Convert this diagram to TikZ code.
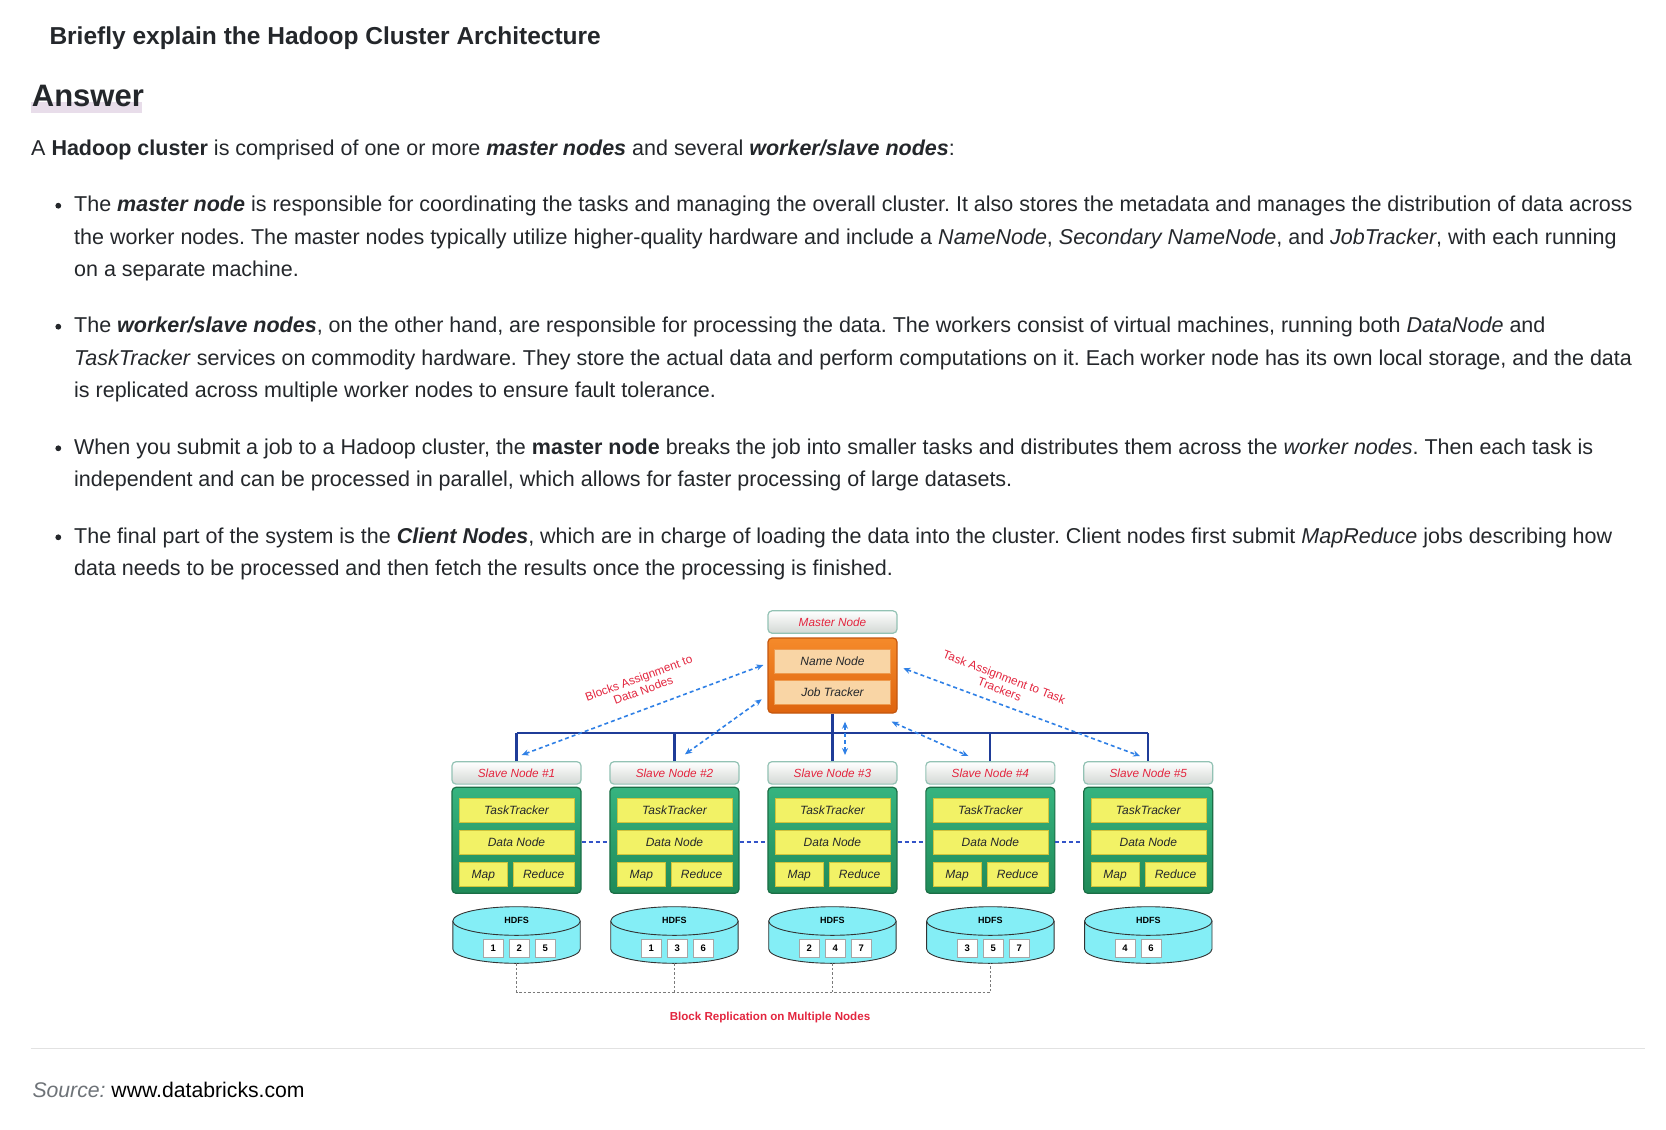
\documentclass[tikz,border=0pt]{standalone}
\usepackage{fontspec}
\setmainfont{Liberation Sans}
\usetikzlibrary{positioning,arrows.meta}
\definecolor{ink}{HTML}{24272B}
\definecolor{answerbar}{HTML}{E8DDEA}
\definecolor{rulegray}{HTML}{E2E2E2}
\definecolor{srcgray}{HTML}{6E7378}
\definecolor{alert}{HTML}{E3263F}
\definecolor{headrim}{HTML}{93C2B4}
\definecolor{headgray}{HTML}{D3D8D4}
\definecolor{mtop}{HTML}{F58A2A}
\definecolor{mbottom}{HTML}{DE640F}
\definecolor{mrim}{HTML}{C4560E}
\definecolor{mpart}{HTML}{F9D5A5}
\definecolor{mpartrim}{HTML}{EE9A4E}
\definecolor{gtop}{HTML}{36B47F}
\definecolor{gbottom}{HTML}{1F8A58}
\definecolor{grim}{HTML}{1B6E46}
\definecolor{ypart}{HTML}{F2F266}
\definecolor{ypartrim}{HTML}{CFC43C}
\definecolor{disk}{HTML}{84EEF6}
\definecolor{diskrim}{HTML}{333333}
\definecolor{busblue}{HTML}{1F3C98}
\definecolor{arrowblue}{HTML}{2F80E6}
\definecolor{linkblue}{HTML}{3353C8}
\definecolor{replgray}{HTML}{7A7A7A}
\frenchspacing
\begin{document}
\begin{tikzpicture}[
    x=1pt, y=-1pt,
    line/.style={anchor=base west, inner sep=0pt, text=ink, font=\fontsize{21.5}{26}\selectfont},
    head/.style={draw=headrim, line width=1.2pt, rounded corners=4pt, top color=white,
      bottom color=headgray, minimum width=129pt, minimum height=22.4pt, inner sep=0pt,
      text=alert, font=\fontsize{11.8}{13}\selectfont\itshape},
    master/.style={draw=mrim, line width=1.2pt, rounded corners=4pt, top color=mtop,
      bottom color=mbottom, minimum width=129pt, minimum height=75pt},
    mpart/.style={draw=mpartrim, fill=mpart, minimum width=116pt, minimum height=24pt,
      inner sep=0pt, text height=9.2pt, text depth=0.4pt, text=ink,
      font=\fontsize{12}{13}\selectfont\itshape},
    slave/.style={draw=grim, line width=1.2pt, rounded corners=4pt, top color=gtop,
      bottom color=gbottom, minimum width=129pt, minimum height=106pt},
    part/.style={draw=ypartrim, fill=ypart, minimum height=24pt, inner sep=0pt,
      text height=9.2pt, text depth=0.4pt, text=ink, font=\fontsize{12}{13}\selectfont\itshape},
    disk/.style={draw=diskrim, line width=0.9pt, fill=disk},
    block/.style={draw=gray!70, fill=white, minimum width=20pt, minimum height=17.4pt,
      inner sep=0pt, font=\fontsize{9.5}{10}\selectfont\bfseries},
    bus/.style={draw=busblue, line width=2.2pt},
    dasharr/.style={draw=arrowblue, line width=1.6pt, dash pattern=on 4pt off 3pt,
      arrows={Stealth[length=7pt,width=6pt]-Stealth[length=7pt,width=6pt]}},
    link/.style={draw=linkblue, line width=1.5pt, dash pattern=on 4pt off 3pt},
    repl/.style={draw=replgray, line width=1.2pt, dash pattern=on 2.5pt off 2pt},
    note/.style={text=alert, align=center, inner sep=0pt, font=\fontsize{11.8}{13}\selectfont},
  ]
    \useasboundingbox [fill=white] (0,0) rectangle (1666,1130);

    % text of the page
    \node [line, font=\fontsize{24.5}{28}\selectfont\bfseries] (title) at (49.3,44) {Briefly explain the Hadoop Cluster Architecture};
    \fill [answerbar] (30.7,101.7) rectangle (141.7,112.7);
    \node [line, font=\fontsize{31}{34}\selectfont\bfseries] (answer) at (31.7,106) {Answer};
    \node [line] (intro) at (31,155) {A \textbf{Hadoop cluster} is comprised of one or more \textbf{\textit{master nodes}} and several \textbf{\textit{worker/slave nodes}}:};
    \foreach \y in {205.7,326.7,448.3,537.3}
      \fill [ink] (58.3,\y) circle [radius=2.9];
    \node [line] (b1a) at (74,211.7) {The \textbf{\textit{master node}} is responsible for coordinating the tasks and managing the overall cluster. It also stores the metadata and manages the distribution of data across};
    \node [line] (b1b) at (74,244) {the worker nodes. The master nodes typically utilize higher-quality hardware and include a \textit{NameNode}, \textit{Secondary NameNode}, and \textit{JobTracker}, with each running};
    \node [line] (b1c) at (74,276.3) {on a separate machine.};
    \node [line] (b2a) at (74,332.7) {The \textbf{\textit{worker/slave nodes}}, on the other hand, are responsible for processing the data. The workers consist of virtual machines, running both \textit{DataNode} and};
    \node [line] (b2b) at (74,365) {\textit{TaskTracker} services on commodity hardware. They store the actual data and perform computations on it. Each worker node has its own local storage, and the data};
    \node [line] (b2c) at (74,397.3) {is replicated across multiple worker nodes to ensure fault tolerance.};
    \node [line] (b3a) at (74,454.3) {When you submit a job to a Hadoop cluster, the \textbf{master node} breaks the job into smaller tasks and distributes them across the \textit{worker nodes}. Then each task is};
    \node [line] (b3b) at (74,486.5) {independent and can be processed in parallel, which allows for faster processing of large datasets.};
    \node [line] (b4a) at (74,543.3) {The final part of the system is the \textbf{\textit{Client Nodes}}, which are in charge of loading the data into the cluster. Client nodes first submit \textit{MapReduce} jobs describing how};
    \node [line] (b4b) at (74,575.5) {data needs to be processed and then fetch the results once the processing is finished.};

    % master node
    \node [head] (mhead) at (832.5,622) {Master Node};
    \node [master] (mbody) at (832.5,675.5) {};
    \node [mpart] (nn) at (832.5,661) {Name Node};
    \node [mpart] (jt) at (832.5,692) {Job Tracker};

    % slave nodes with their HDFS disks
    \foreach \i/\bl in {1/{1,2,5},2/{1,3,6},3/{2,4,7},4/{3,5,7},5/{4,6}} {
      \pgfmathsetmacro\cx{516.5+157.95*(\i-1)}
      \node [head] (head\i) at (\cx,772.9) {Slave Node \#\i};
      \node [slave] (body\i) at (\cx,840.3) {};
      \node [part, minimum width=115pt] (tt\i) at (\cx,810.3) {TaskTracker};
      \node [part, minimum width=115pt] (dn\i) at (\cx,842) {Data Node};
      \node [part, minimum width=48.7pt] (map\i) at (\cx-33.2,873.9) {Map};
      \node [part, minimum width=60.7pt] (red\i) at (\cx+27.2,873.9) {Reduce};
      \draw [disk] (\cx-63.7,921) -- (\cx-63.7,949)
        arc [start angle=180, end angle=0, x radius=63.7, y radius=14.3] -- (\cx+63.7,921);
      \draw [disk] (\cx,921) ellipse [x radius=63.7, y radius=14.3];
      \node [font=\fontsize{9}{10}\selectfont\bfseries] (hdfs\i) at (\cx,920) {HDFS};
      \coordinate (disk\i) at (\cx,963.3);
      \foreach \b [count=\k] in \bl
        \node [block] (blk\i\k) at (\cx-23.2+26*\k-26,948) {\b};
    }

    % bus from the master
    \coordinate (bus) at (832.5,733.3);
    \draw [bus] (mbody.south) -- (bus);
    \draw [bus] (head1.north |- bus) -- (head5.north |- bus);
    \foreach \i in {1,...,5}
      \draw [bus] (head\i.north |- bus) -- (head\i.north);

    % data nodes linked
    \foreach \i [evaluate=\i as \j using int(\i+1)] in {1,...,4}
      \draw [link] (body\i.east |- dn\i) -- (body\j.west |- dn\j);

    % assignments
    \coordinate (blkA) at (521.7,755);   \coordinate (blkB) at (763.3,665);
    \coordinate (twoA) at (685,754.3);   \coordinate (twoB) at (761.7,699.3);
    \coordinate (thrA) at (845,721.7);   \coordinate (thrB) at (845,755);
    \coordinate (fouA) at (891.7,721.7); \coordinate (fouB) at (968.3,756);
    \coordinate (tskA) at (903.3,668.3); \coordinate (tskB) at (1140,756);
    \draw [dasharr] (blkA) -- (blkB);
    \draw [dasharr] (twoA) -- (twoB);
    \draw [dasharr] (thrA) -- (thrB);
    \draw [dasharr] (fouA) -- (fouB);
    \draw [dasharr] (tskA) -- (tskB);
    \node [note, rotate=20] (blklab) at (641,684) {Blocks Assignment to\\Data Nodes};
    \node [note, rotate=-21] (tsklab) at (1002,683) {Task Assignment to Task\\Trackers};

    % replication
    \coordinate (rep) at (770,992.3);
    \draw [repl] (disk1) |- (rep) -| (disk4);
    \draw [repl] (disk2) -- (disk2 |- rep);
    \draw [repl] (disk3) -- (disk3 |- rep);
    \node [note, font=\fontsize{11.6}{13}\selectfont\bfseries] (replab) at (770,1017) {Block Replication on Multiple Nodes};

    % source
    \draw [rulegray, line width=1.3pt] (30.7,1048.3) -- (1645,1048.3);
    \node [line, font=\fontsize{21.2}{24}\selectfont, text=black] (source) at (32.3,1097.3) {\textcolor{srcgray}{\itshape Source:} www.databricks.com};
\end{tikzpicture}
\end{document}
